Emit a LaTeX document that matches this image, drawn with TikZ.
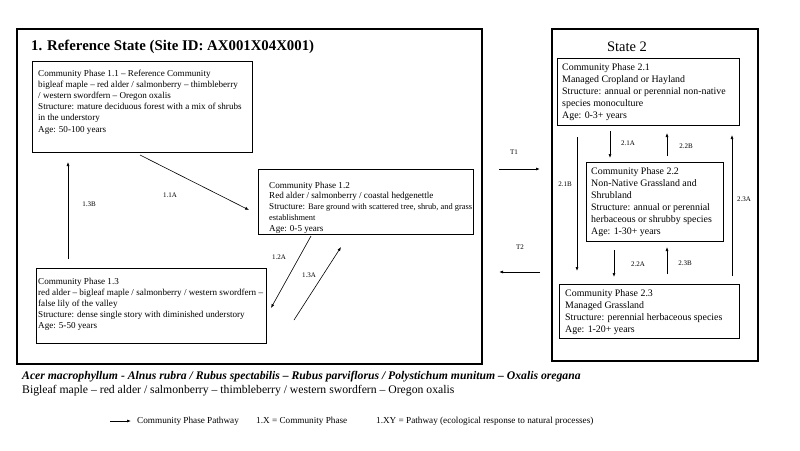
\documentclass[tikz,border=0pt]{standalone}
\usepackage{fontspec}
\setmainfont{Liberation Serif}
\usetikzlibrary{arrows.meta}
\begin{document}
\begin{tikzpicture}[x=1pt,y=-1pt,
 statebox/.style={draw, line width=2pt, inner sep=0, anchor=north west},
 phasebox/.style={draw, line width=0.8pt, inner sep=0, anchor=north west},
 txt/.style={anchor=north west, inner sep=0, align=left, font=\fontsize{9.1}{11.2}\selectfont},
 txtb/.style={txt, font=\fontsize{9.9}{12.2}\selectfont},
 pathway/.style={-{Latex[length=4pt,width=3pt]}, line width=0.6pt},
 lab/.style={font=\fontsize{7}{8}\selectfont, inner sep=0},
 legend/.style={anchor=west, inner sep=0, font=\fontsize{9.2}{10}\selectfont}
]
\useasboundingbox (0,0) rectangle (800,450);
\fill[white] (0,0) rectangle (800,450);

% state boxes
\node[statebox, minimum width=465, minimum height=335] (s1) at (16,28) {};
\node[statebox, minimum width=206, minimum height=332] (s2) at (551,28) {};
\node[anchor=west, inner sep=0, font=\fontsize{14.8}{16}\selectfont\bfseries] (t1) at (31,47) {1. Reference State (Site ID: AX001X04X001)};
\node[inner sep=0, font=\fontsize{14.5}{16}\selectfont] (t2) at (627,47) {State 2};

% phase boxes
\node[phasebox, minimum width=220, minimum height=91] (p11) at (32,61) {};
\node[phasebox, minimum width=215, minimum height=65] (p12) at (258,169) {};
\node[phasebox, minimum width=230, minimum height=75] (p13) at (36,268) {};
\node[phasebox, minimum width=182, minimum height=67] (p21) at (557,58) {};
\node[phasebox, minimum width=137, minimum height=79] (p22) at (586,162) {};
\node[phasebox, minimum width=180, minimum height=54] (p23) at (559,284) {};

% texts
\node[txt] (x11) at (38,69.5) {Community Phase 1.1 – Reference Community\\bigleaf maple – red alder / salmonberry – thimbleberry\\/ western swordfern – Oregon oxalis\\Structure: mature deciduous forest with a mix of shrubs\\in the understory\\Age: 50-100 years};
\node[txt, font=\fontsize{9.1}{10.9}\selectfont] (x12) at (269,181.5) {Community Phase 1.2\\Red alder / salmonberry / coastal hedgenettle\\Structure: {\fontsize{8.4}{9}\selectfont Bare ground with scattered tree, shrub, and grass}\\{\fontsize{8.4}{9}\selectfont establishment}\\Age: 0-5 years};
\node[txt] (x13) at (38,277.5) {Community Phase 1.3\\red alder – bigleaf maple / salmonberry / western swordfern –\\false lily of the valley\\Structure: dense single story with diminished understory\\Age: 5-50 years};
\node[txtb] (x21) at (562,63) {Community Phase 2.1\\Managed Cropland or Hayland\\Structure: annual or perennial non-native\\species monoculture\\Age: 0-3+ years};
\node[txtb, font=\fontsize{9.9}{12}\selectfont] (x22) at (591,167) {Community Phase 2.2\\Non-Native Grassland and\\Shrubland\\Structure: annual or perennial\\herbaceous or shrubby species\\Age: 1-30+ years};
\node[txtb] (x23) at (565,289) {Community Phase 2.3\\Managed Grassland\\Structure: perennial herbaceous species\\Age: 1-20+ years};

% pathway end points
\coordinate (a1s) at (140,155); \coordinate (a1e) at (249,210);
\coordinate (b3s) at (68,259);  \coordinate (b3e) at (68,162);
\coordinate (a2s) at (311,236); \coordinate (a2e) at (271,308);
\coordinate (a3s) at (294,320); \coordinate (a3e) at (341,247);
\coordinate (t1s) at (499,169); \coordinate (t1e) at (540,169);
\coordinate (t2s) at (540,272); \coordinate (t2e) at (499,272);
\coordinate (c1s) at (610,131); \coordinate (c1e) at (610,158);
\coordinate (d2s) at (667,156); \coordinate (d2e) at (667,133);
\coordinate (e1s) at (577,137); \coordinate (e1e) at (577,271);
\coordinate (f3s) at (732,276); \coordinate (f3e) at (732,135);
\coordinate (g2s) at (614,250); \coordinate (g2e) at (614,277);
\coordinate (h3s) at (667,274); \coordinate (h3e) at (667,247);

\draw[pathway] (a1s) -- (a1e);
\draw[pathway] (b3s) -- (b3e);
\draw[pathway] (a2s) -- (a2e);
\draw[pathway] (a3s) -- (a3e);
\draw[pathway, line width=0.9pt] (t1s) -- (t1e);
\draw[pathway, line width=0.9pt] (t2s) -- (t2e);
\draw[pathway] (c1s) -- (c1e);
\draw[pathway] (d2s) -- (d2e);
\draw[pathway] (e1s) -- (e1e);
\draw[pathway] (f3s) -- (f3e);
\draw[pathway] (g2s) -- (g2e);
\draw[pathway] (h3s) -- (h3e);

\node[lab] (l11a) at (170,195) {1.1A};
\node[lab] (l13b) at (89,204) {1.3B};
\node[lab] (l12a) at (279,257) {1.2A};
\node[lab] (l13a) at (309,275) {1.3A};
\node[lab] (lt1) at (514,152) {T1};
\node[lab] (lt2) at (520,247) {T2};
\node[lab] (l21a) at (628,143) {2.1A};
\node[lab] (l22b) at (686,146) {2.2B};
\node[lab] (l21b) at (565,184) {2.1B};
\node[lab] (l23a) at (744,199) {2.3A};
\node[lab] (l22a) at (638,264) {2.2A};
\node[lab] (l23b) at (685,263) {2.3B};

% species lines
\node[anchor=west, inner sep=0, font=\fontsize{11.7}{13}\selectfont\bfseries\itshape] (sp1) at (22,377) {Acer macrophyllum - Alnus rubra / Rubus spectabilis – Rubus parviflorus / Polystichum munitum – Oxalis oregana};
\node[anchor=west, inner sep=0, font=\fontsize{11.7}{13}\selectfont] (sp2) at (22,391) {Bigleaf maple – red alder / salmonberry – thimbleberry / western swordfern – Oregon oxalis};

% legend
\coordinate (ls) at (110,421); \coordinate (le) at (131,421);
\draw[pathway] (ls) -- (le);
\node[legend] (lg1) at (137,421) {Community Phase Pathway};
\node[legend] (lg2) at (256,421) {1.X = Community Phase};
\node[legend] (lg3) at (376,421) {1.XY = Pathway (ecological response to natural processes)};
\end{tikzpicture}
\end{document}
